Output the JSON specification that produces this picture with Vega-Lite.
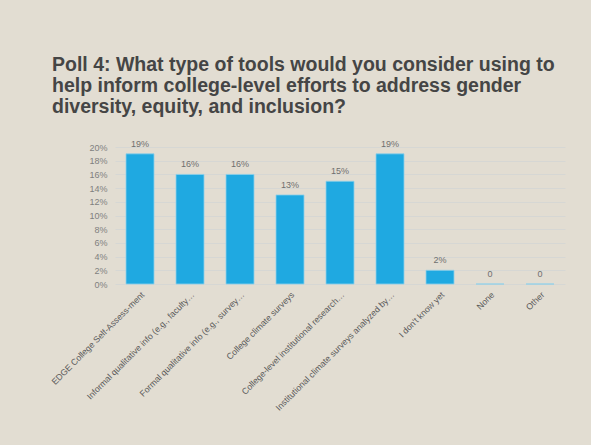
{
  "$schema": "https://vega.github.io/schema/vega-lite/v6.json",
  "autosize": {"type": "none"},
  "width": 450,
  "height": 137,
  "padding": {"left": 115, "top": 147, "right": 26, "bottom": 161},
  "background": "#E2DDD2",
  "config": {
    "view": {"stroke": null},
    "font": "Liberation Sans"
  },
  "title": {
    "text": ["Poll 4: What type of tools would you consider using to", "help inform college-level efforts to address gender", "diversity, equity, and inclusion?"],
    "anchor": "start",
    "frame": "group",
    "dx": -63,
    "offset": 22,
    "fontSize": 19.5,
    "lineHeight": 21,
    "color": "#454545",
    "font": "Liberation Sans",
    "fontWeight": "bold"
  },
  "data": {
    "values": [
      {"tool": "EDGE College Self-Assess-ment", "pct": 0.19, "label": "19%"},
      {"tool": "Informal qualitative info (e.g., faculty…", "pct": 0.16, "label": "16%"},
      {"tool": "Formal qualitative info (e.g., survey…", "pct": 0.16, "label": "16%"},
      {"tool": "College climate surveys", "pct": 0.13, "label": "13%"},
      {"tool": "College-level institutional research…", "pct": 0.15, "label": "15%"},
      {"tool": "Institutional climate surveys analyzed by…", "pct": 0.19, "label": "19%"},
      {"tool": "I don't know yet", "pct": 0.02, "label": "2%"},
      {"tool": "None", "pct": 0, "label": "0"},
      {"tool": "Other", "pct": 0, "label": "0"}
    ]
  },
  "encoding": {
    "x": {
      "field": "tool",
      "type": "nominal",
      "sort": null,
      "scale": {"paddingInner": 0.44, "paddingOuter": 0.22},
      "axis": {
        "title": null,
        "labelAngle": -45,
        "labelFontSize": 8.7,
        "labelColor": "#595959",
        "labelPadding": 6,
        "ticks": false,
        "domain": false,
        "labelLimit": 300
      }
    },
    "y": {
      "field": "pct",
      "type": "quantitative",
      "scale": {"domain": [0, 0.2]},
      "axis": {
        "title": null,
        "format": ".0%",
        "values": [0, 0.02, 0.04, 0.06, 0.08, 0.1, 0.12, 0.14, 0.16, 0.18, 0.2],
        "labelFontSize": 9,
        "labelColor": "#7F7F7F",
        "labelPadding": 8,
        "ticks": false,
        "domain": false,
        "gridColor": "#D6D7D4",
        "gridWidth": 1
      }
    }
  },
  "layer": [
    {
      "mark": {"type": "bar", "color": "#1FA9E1", "stroke": "#8FD0EA", "strokeWidth": 0.8}
    },
    {
      "mark": {"type": "text", "baseline": "bottom", "dy": -5, "fontSize": 9, "color": "#6F6F6F"},
      "encoding": {"text": {"field": "label"}}
    }
  ]
}
